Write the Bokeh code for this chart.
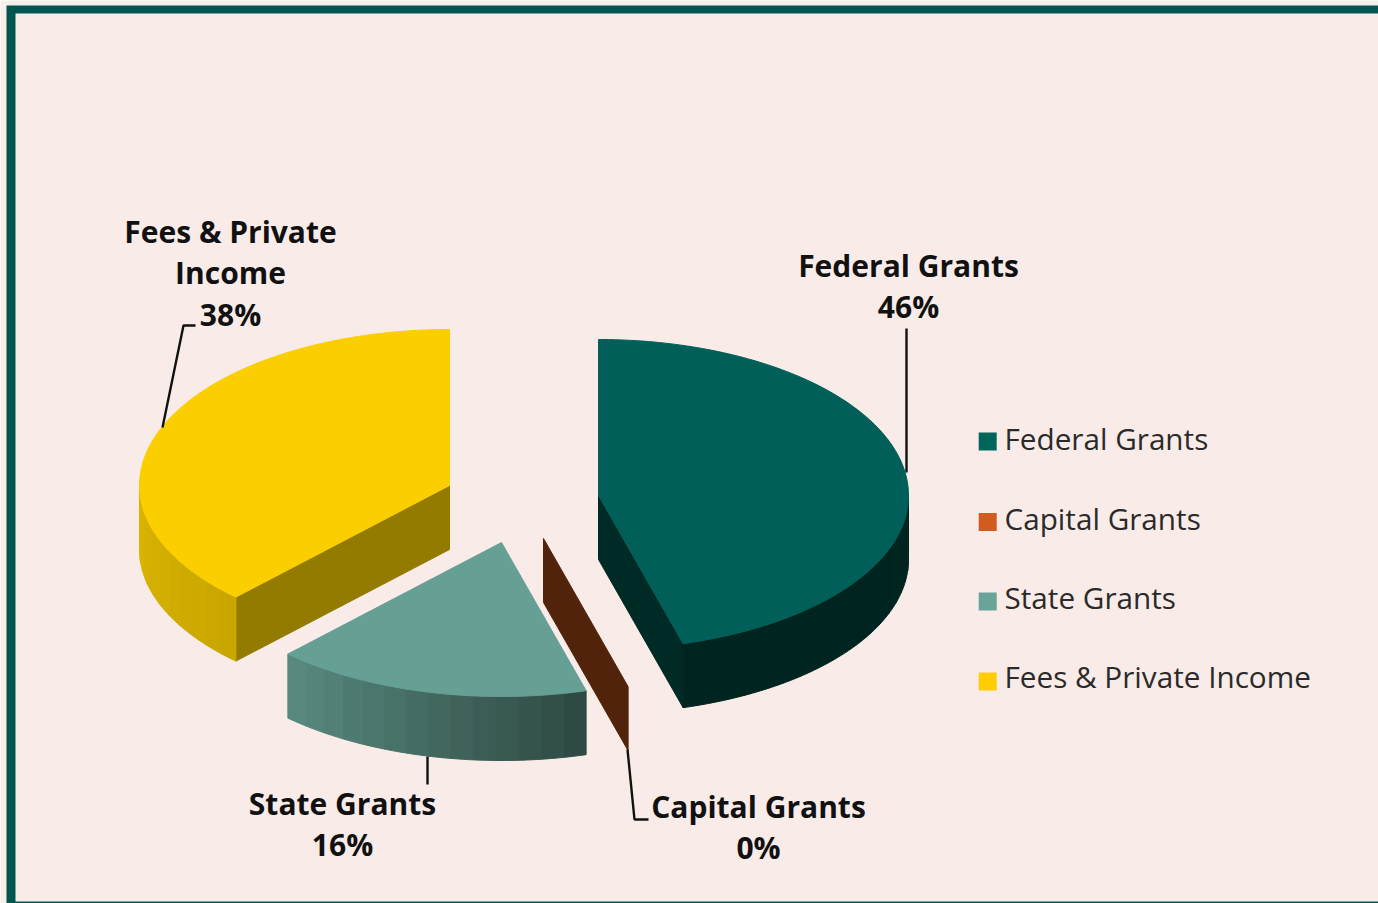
import numpy as np
from bokeh.embed import file_html
from bokeh.models import Range1d
from bokeh.plotting import figure
from bokeh.resources import INLINE
from bokeh.core.properties import value

# ---- data ----
categories = ["Federal Grants", "Capital Grants", "State Grants", "Fees & Private Income"]
shares = [45.6, 0.0, 16.5, 37.9]          # slice sizes as drawn (% of the ellipse angle)
percent_labels = ["46%", "0%", "16%", "38%"]

# ---- styles and layout ----
OUTER = "#f6efea"
PANEL = "#f9ece8"
FRAME = "#00564f"
FONT = "Open Sans"
TOP = ["#005f58", "#52230b", "#669f94", "#fbce00"]
SWATCH = ["#00665c", "#d25b1f", "#68a497", "#ffcd00"]
WALL = ["#002a25", "#52230b", None, "#937b00"]
SIDE = [("#00241f", "#00241f"), None, ("#2f4a44", "#58897f"), ("#c9a700", "#dab400")]
APEX = [(598, 495), (543, 538), (501, 542), (449, 485)]
RX, RY_BACK, RY_FRONT, DEPTH = 310, 156, 154, 64
LABEL_LINES = [["Federal Grants"], ["Capital Grants"], ["State Grants"], ["Fees & Private", "Income"]]
LABEL_X = [908, 758, 342, 230]
LABEL_BASE = [277, 818, 815, 243]
LINE_STEP = 41.3
TEXT_DY = -12
LEGEND_SWATCH_Y = [441, 521.5, 601, 681]
LEGEND_BASE = [450, 530, 609, 688]
LEADERS = [([906, 906], [328, 472]),
           ([627, 634, 648], [749, 819, 819]),
           ([427, 427], [756, 784]),
           ([162, 183, 195], [427, 325, 325])]

W, H = 1378, 903
p = figure(width=W, height=H, x_range=Range1d(0, W), y_range=Range1d(H, 0),
           output_backend="svg", toolbar_location=None, min_border=0,
           background_fill_color=OUTER, border_fill_color=OUTER, outline_line_color=None)
p.axis.visible = False
p.grid.visible = False


def ring(apex, theta):
    c = np.cos(theta)
    return apex[0] + RX * np.sin(theta), apex[1] - np.where(c >= 0, RY_BACK, RY_FRONT) * c


def mix(a, b, t):
    ca = [int(a[i:i + 2], 16) for i in (1, 3, 5)]
    cb = [int(b[i:i + 2], 16) for i in (1, 3, 5)]
    return "#%02x%02x%02x" % tuple(round(x + (y - x) * t) for x, y in zip(ca, cb))


# frame and panel
p.quad(left=[6], right=[W], top=[5], bottom=[H], fill_color=FRAME, line_color=None)
p.quad(left=[15], right=[W], top=[13], bottom=[901], fill_color=PANEL, line_color=None)

edges = np.concatenate([[0], np.cumsum(shares)]) / sum(shares) * 2 * np.pi
xs, ys, fills = [], [], []


def add(x, y, c):
    xs.append(list(map(float, x)))
    ys.append(list(map(float, y)))
    fills.append(c)


for i in range(len(categories)):
    a0, a1, apex = edges[i], edges[i + 1], APEX[i]
    if WALL[i]:
        wall_a = a0 if i == 3 else a1
        ex, ey = ring(apex, wall_a)
        add([apex[0], ex, ex, apex[0]], [apex[1], ey, ey + DEPTH, apex[1] + DEPTH], WALL[i])
    # outer rim, in narrow bands that carry the shading
    if SIDE[i]:
        lo, hi = max(a0, np.pi / 2), min(a1, 3 * np.pi / 2)
        n = max(1, int(np.degrees(hi - lo) / 4))
        cuts = np.linspace(lo, hi, n + 1)
        for k in range(n):
            t = np.linspace(cuts[k], cuts[k + 1], 6)
            rx_, ry_ = ring(apex, t)
            add(np.r_[rx_, rx_[::-1]], np.r_[ry_, ry_[::-1] + DEPTH],
                mix(SIDE[i][0], SIDE[i][1], k / max(1, n - 1)))
for i in range(len(categories)):
    if shares[i] > 0:
        t = np.linspace(edges[i], edges[i + 1], 160)
        rx_, ry_ = ring(APEX[i], t)
        add(np.r_[APEX[i][0], rx_], np.r_[APEX[i][1], ry_], TOP[i])

p.patches(xs, ys, fill_color=fills, line_color=fills, line_width=1)

# leaders
p.multi_line([l[0] for l in LEADERS], [l[1] for l in LEADERS], line_color="#111111", line_width=2.4)

# data labels
tx, ty, tt = [], [], []
for i in range(len(categories)):
    lines = LABEL_LINES[i] + [percent_labels[i]]
    for k, s in enumerate(lines):
        tx.append(LABEL_X[i])
        ty.append(LABEL_BASE[i] + k * LINE_STEP + TEXT_DY)
        tt.append(s)
p.text(tx, ty, text=tt, text_align="center", text_baseline="alphabetic",
       text_font=value(FONT), text_font_style="bold", text_font_size="30px", text_color="#111111")

# legend
p.scatter([987.2] * 4, LEGEND_SWATCH_Y, marker="square", size=18, fill_color=SWATCH, line_color=None)
p.text([1004] * 4, [b + TEXT_DY for b in LEGEND_BASE], text=categories, text_baseline="alphabetic",
       text_font=value(FONT), text_font_size="29.7px", text_color="#2a2a2a")

open("out.html", "w").write(file_html(p, INLINE))
